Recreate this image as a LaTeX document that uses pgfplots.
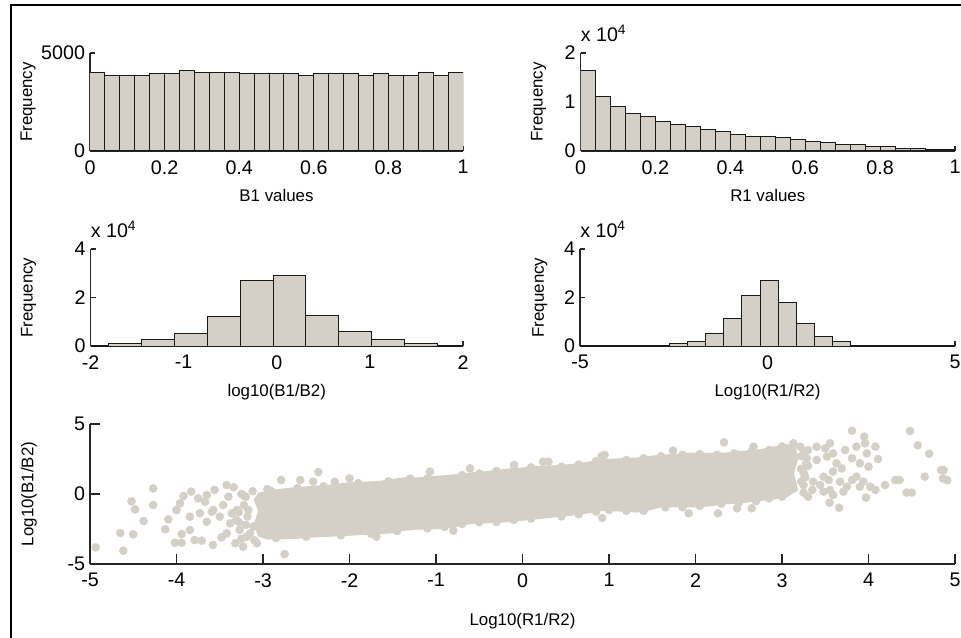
\documentclass[border=0pt]{standalone}
\usepackage{fontspec}
\setmainfont{Liberation Sans}
\usepackage{pgfplots}
\pgfplotsset{compat=1.18}
\definecolor{matgray}{HTML}{D4D0C8}
\newcommand{\ticksize}{\fontsize{14}{16}\selectfont}
\newcommand{\labsize}{\fontsize{12}{14}\selectfont}

\pgfplotsset{
  matlab/.style={
    scale only axis,
    axis x line*=bottom, axis y line*=left,
    axis line style={-, black!85, line width=0.35mm},
    tick align=inside,
    major tick style={black!85, line width=0.3mm},
    major tick length=1.25mm,
    tick label style={font=\ticksize},
    xticklabel style={yshift=-1.1mm},
    /pgf/number format/assume math mode=true,
    /pgf/number format/1000 sep={},
    scaled ticks=false,
    label style={font=\labsize},
    xlabel style={anchor=center},
    ylabel style={anchor=center},
  },
  hbar/.style={ybar interval, fill=matgray, draw=black!90, line width=0.25mm},
  xtenfour/.style={after end axis/.code={
    \node[anchor=base west, inner sep=0, font=\ticksize, yshift=2.9mm] at (rel axis cs:0,1) {x 10\textsuperscript{4}};}},
}

\begin{document}
\begin{tikzpicture}

% B1 histogram
\begin{axis}[matlab, at={(22.5mm,121.5mm)}, anchor=south west,
  width=93.25mm, height=24.5mm,
  xmin=0, xmax=1, ymin=0, ymax=5000,
  xtick={0,0.2,0.4,0.6,0.8,1}, ytick={0,5000},
  xlabel={B1 values}, ylabel={Frequency},
  xlabel style={at={(axis description cs:0.5,-0.45)}},
  ylabel style={at={(axis description cs:-0.166,0.5)}}]
\addplot[hbar] coordinates {
(0.00,4030) (0.04,3860) (0.08,3860) (0.12,3860) (0.16,3940) (0.20,3940)
(0.24,4110) (0.28,4030) (0.32,4030) (0.36,4030) (0.40,3940) (0.44,3940)
(0.48,3940) (0.52,3940) (0.56,3860) (0.60,3940) (0.64,3940) (0.68,3940)
(0.72,3860) (0.76,3940) (0.80,3860) (0.84,3860) (0.88,4030) (0.92,3860)
(0.96,4030) (1.00,0)};
\end{axis}

% R1 histogram
\begin{axis}[matlab, xtenfour, at={(145.125mm,121.5mm)}, anchor=south west,
  width=93.625mm, height=24.5mm,
  xmin=0, xmax=1, ymin=0, ymax=20000,
  xtick={0,0.2,0.4,0.6,0.8,1}, ytick={0,10000,20000}, yticklabels={0,1,2},
  xlabel={R1 values}, ylabel={Frequency},
  xlabel style={at={(axis description cs:0.5,-0.45)}},
  ylabel style={at={(axis description cs:-0.112,0.5)}}]
\addplot[hbar] coordinates {
(0.00,16450) (0.04,11060) (0.08,9000) (0.12,7710) (0.16,7030) (0.20,6000)
(0.24,5320) (0.28,4980) (0.32,4300) (0.36,3960) (0.40,3280) (0.44,2940)
(0.48,2940) (0.52,2660) (0.56,2320) (0.60,1980) (0.64,1640) (0.68,1300)
(0.72,1300) (0.76,960) (0.80,960) (0.84,610) (0.88,610) (0.92,340)
(0.96,340) (1.00,0)};
\end{axis}

% log10(B1/B2) histogram
\begin{axis}[matlab, xtenfour, at={(22.625mm,72.75mm)}, anchor=south west,
  width=93.125mm, height=24.25mm,
  xmin=-2, xmax=2, ymin=0, ymax=40000,
  xtick={-2,-1,0,1,2}, ytick={0,20000,40000}, yticklabels={0,2,4},
  xlabel={log10(B1/B2)}, ylabel={Frequency},
  xlabel style={at={(axis description cs:0.5,-0.475)}},
  ylabel style={at={(axis description cs:-0.166,0.5)}}]
\addplot[hbar] coordinates {
(-2.160,300) (-1.807,1100) (-1.453,2500) (-1.100,5200) (-0.746,12100)
(-0.393,27000) (-0.039,29000) (0.314,12700) (0.668,5900) (1.021,2500)
(1.375,1100) (1.728,300) (2.082,0)};
\end{axis}

% Log10(R1/R2) histogram
\begin{axis}[matlab, xtenfour, at={(145mm,72.75mm)}, anchor=south west,
  width=93.75mm, height=24.25mm,
  xmin=-5, xmax=5, ymin=0, ymax=40000,
  xtick={-5,0,5}, ytick={0,20000,40000}, yticklabels={0,2,4},
  xlabel={Log10(R1/R2)}, ylabel={Frequency},
  xlabel style={at={(axis description cs:0.5,-0.475)}},
  ylabel style={at={(axis description cs:-0.107,0.5)}}]
\addplot[hbar] coordinates {
(-5.050,2) (-4.565,5) (-4.080,15) (-3.595,40) (-3.110,100) (-2.625,1100)
(-2.140,1900) (-1.655,5200) (-1.170,11400) (-0.685,20800) (-0.200,27000)
(0.285,18100) (0.770,9200) (1.255,4000) (1.740,1900) (2.225,200)
(2.710,60) (3.195,25) (3.680,10) (4.165,5) (4.650,3) (5.135,0)};
\end{axis}

% scatter
\begin{axis}[matlab, at={(22.5mm,18.25mm)}, anchor=south west,
  width=216.25mm, height=35mm,
  major tick length=2.5mm,
  xmin=-5, xmax=5, ymin=-5, ymax=5,
  xtick={-5,-4,...,5}, ytick={-5,0,5},
  xlabel={Log10(R1/R2)}, ylabel={Log10(B1/B2)},
  xlabel style={at={(axis description cs:0.5,-0.41)}},
  ylabel style={at={(axis description cs:-0.0705,0.5)}}]
% dense core of the cloud (thousands of overlapping points)
\addplot[fill=matgray, draw=matgray, line width=0.3mm] coordinates {
(-3.05,0.05) (-2.9,0.25) (-2.7,0.4) (-2.42,0.54) (-2.2,0.65) (-2.03,0.78)
(-1.8,0.85) (-1.65,0.9) (-1.38,1.14) (-1.2,1.15) (-0.99,1.26) (-0.8,1.35)
(-0.61,1.49) (-0.4,1.6) (-0.22,1.74) (0.0,1.85) (0.16,1.97) (0.35,2.0)
(0.55,2.09) (0.75,2.25) (0.93,2.45) (1.1,2.5) (1.32,2.56) (1.5,2.7)
(1.71,2.81) (1.97,2.92) (2.15,2.9) (2.36,2.92) (2.55,3.05) (2.75,3.16)
(2.9,3.35) (3.05,3.52) (3.15,3.45) (3.18,2.5) (3.13,1.5) (3.18,0.3)
(3.05,-0.21) (2.9,-0.35) (2.75,-0.45) (2.55,-0.6) (2.36,-0.69)
(2.15,-0.85) (1.97,-0.92) (1.75,-0.9) (1.59,-0.92) (1.45,-1.15)
(1.32,-1.28) (1.1,-1.2) (0.93,-1.16) (0.75,-1.35) (0.55,-1.52)
(0.35,-1.65) (0.16,-1.76) (-0.05,-1.9) (-0.22,-1.99) (-0.4,-2.05)
(-0.61,-2.11) (-0.8,-2.35) (-0.99,-2.47) (-1.2,-2.5) (-1.38,-2.59)
(-1.5,-2.75) (-1.65,-2.83) (-1.85,-2.88) (-2.03,-2.95) (-2.2,-3.0)
(-2.42,-3.06) (-2.6,-3.15) (-2.8,-3.2) (-2.95,-3.2) (-3.05,-3.0)
(-3.1,-2.2) (-3.05,-1.2) (-3.1,-0.4)} -- cycle;
% single points around it
\addplot[only marks, mark=*, mark size=1.0mm, mark options={fill=matgray, draw=matgray}] coordinates {
(-4.935,-3.81) (-4.615,-4.05) (-4.65,-2.79) (-4.50,-2.88) (-4.52,-0.52)
(-4.48,-1.10) (-4.38,-1.93) (-4.27,0.40) (-4.27,-0.79) (-4.13,-2.52)
(-4.095,-1.81) (-4.02,-3.48) (-3.94,-3.48) (-3.94,-2.86) (-3.845,-2.57)
(-4.0,-1.14) (-3.96,-0.67) (-3.83,0.17) (-3.92,-0.14) (-3.75,-0.31)
(-3.65,-0.07) (-3.56,0.29) (-3.42,0.64) (-3.34,0.48) (-3.79,-3.29)
(-3.71,-3.33) (-3.58,-3.64) (-3.48,-3.10) (-3.32,-3.52) (-3.23,-3.76)
(-3.65,-1.98) (-3.50,-1.62) (-3.30,-1.14) (-3.46,-0.79) (-3.575,-1.14)
(-3.38,-2.10) (-3.27,-2.57) (-3.73,-1.38) (-3.845,-1.62) (-3.07,-3.52)
(-2.75,-4.29) (-2.79,1.0) (-2.36,1.57) (-2.57,1.0) (-2.42,0.88)
(-2.17,0.88) (-2.0,1.12) (-3.67,-0.55) (-3.59,-1.26) (-3.40,-0.19)
(-3.23,-0.07) (-3.31,-1.86) (-3.42,-2.81) (-3.19,-3.05) (-3.11,-2.33)
(-3.17,-1.14) (-3.36,-1.38)
(-3.2,-0.2) (-3.22,-0.8) (-3.18,-1.6) (-3.2,-2.2) (-3.15,-2.8) (-3.25,-3.2)
(-3.25,0.0) (-3.12,0.2) (-3.28,-1.3) (-3.28,-2.0) (-3.1,-3.3) (-2.95,0.35)
(-1.07,1.60) (-0.607,1.83) (-0.098,2.07) (0.24,2.31) (0.30,2.31)
(0.915,2.71) (0.95,2.79) (-1.69,-3.05) (-0.80,-2.62) (0.92,-1.71)
(1.74,3.10) (2.33,3.69) (2.67,3.38) (3.13,3.62) (1.92,-1.38) (2.26,-1.38)
(2.48,-1.02) (2.65,-1.02)
(3.21,3.38) (3.30,3.14) (3.40,3.38) (3.50,3.26) (3.555,3.62) (3.285,2.55)
(3.40,2.43) (3.52,2.67) (3.59,2.90) (3.63,2.19) (3.73,3.14) (3.81,2.55)
(3.69,1.83) (3.59,1.60) (3.48,1.24) (3.54,1.0) (3.36,0.88) (3.25,0.64)
(3.44,0.64) (3.555,0.29) (3.67,0.88) (3.75,0.52) (3.81,1.0) (3.86,1.24)
(3.90,0.52) (3.71,0.17) (3.59,-0.07) (3.48,0.17) (3.55,-0.62) (3.66,-0.98)
(3.81,4.52) (3.95,4.10) (3.86,3.38) (3.96,3.62) (3.98,2.90) (4.08,3.38)
(4.11,2.50) (3.90,2.19) (4.0,1.95) (3.94,0.88) (4.02,0.52) (4.08,0.29)
(3.97,-0.26) (4.19,0.64) (4.31,1.0) (4.36,1.0) (4.44,0.10) (4.50,0.10)
(4.48,4.5) (4.57,3.48) (4.70,2.88) (4.65,1.24) (4.84,1.71) (4.87,1.71)
(4.86,1.12) (4.91,0.98)
(3.25,3.1) (3.22,2.7) (3.28,2.2) (3.22,1.8) (3.27,1.2) (3.22,0.9)
(3.25,0.1) (3.3,-0.2) (3.25,1.5) (3.3,2.0) (3.35,0.3)
(-2.9,0.2) (-2.6,0.42) (-2.3,0.55) (-1.9,0.78) (-1.55,0.9) (-1.3,1.1)
(-1.1,1.1) (-0.7,1.35) (-0.5,1.45) (-0.3,1.65) (-0.1,1.7) (0.1,1.9)
(0.45,1.95) (0.65,2.1) (0.85,2.35) (1.2,2.42) (1.4,2.55) (1.6,2.7)
(1.85,2.8) (2.05,2.85) (2.25,2.8) (2.45,2.9) (2.65,3.05) (2.85,3.15)
(3.0,3.4)
(-2.85,-3.15) (-2.5,-3.05) (-2.1,-2.95) (-1.75,-2.85) (-1.45,-2.65)
(-1.1,-2.45) (-0.9,-2.35) (-0.7,-2.15) (-0.5,-2.0) (-0.3,-2.0) (-0.1,-1.85)
(0.1,-1.75) (0.45,-1.6) (0.65,-1.45) (0.85,-1.25) (1.0,-1.15) (1.2,-1.2)
(1.4,-1.2) (1.65,-0.95) (1.85,-0.95) (2.05,-0.85) (2.3,-0.7) (2.5,-0.6)
(2.7,-0.5) (2.85,-0.3) (3.0,-0.2)};
\end{axis}

% figure frame (only its left and top edges are inside the picture)
\draw[line width=0.5mm] (2.625mm,-2.5mm) -- (2.625mm,157.875mm) -- (243.75mm,157.875mm);
\pgfresetboundingbox
\useasboundingbox (0,0) rectangle (240.25mm,159.25mm);
\end{tikzpicture}
\end{document}
